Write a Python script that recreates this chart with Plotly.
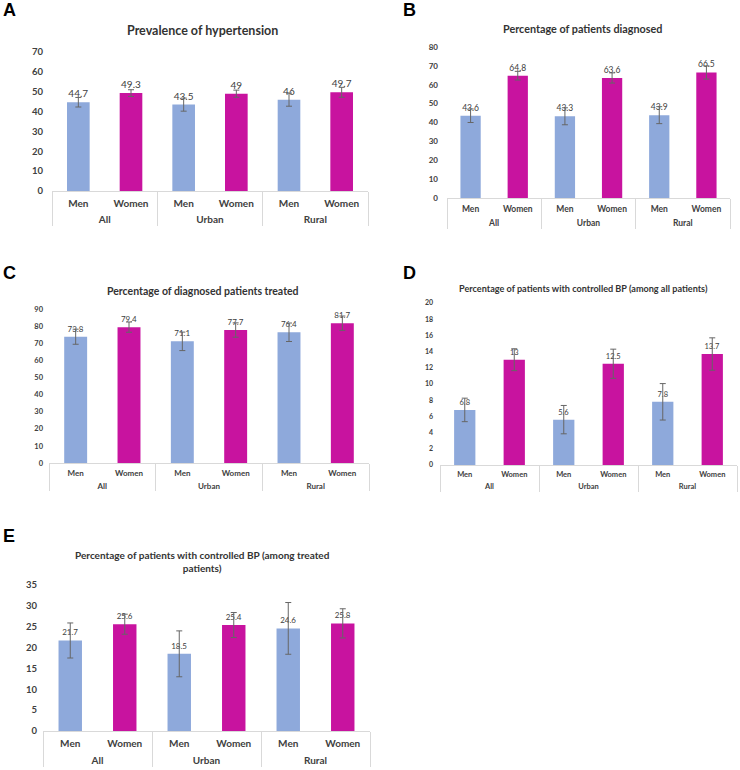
import plotly.graph_objects as go

# ---------------- data ----------------
groups = ["All", "Urban", "Rural"]
sexes = ["Men", "Women"]

titles = {
    "A": "Prevalence of hypertension",
    "B": "Percentage of patients diagnosed",
    "C": "Percentage of diagnosed patients treated",
    "D": "Percentage of patients with controlled BP (among all patients)",
    "E": "Percentage of patients with controlled BP (among treated<br>patients)",
}

A_men = [44.7, 43.5, 46.0]
A_women = [49.3, 49.0, 49.7]
A_men_err = [2.4, 3.3, 3.3]
A_women_err = [1.7, 1.8, 2.5]

B_men = [43.6, 43.3, 43.9]
B_women = [64.8, 63.6, 66.5]
B_men_err = [3.6, 4.5, 4.5]
B_women_err = [2.3, 2.7, 3.5]

C_men = [73.8, 71.1, 76.4]
C_women = [79.4, 77.7, 81.7]
C_men_err = [4.4, 5.4, 5.4]
C_women_err = [3.0, 4.2, 4.2]

D_men = [6.8, 5.6, 7.8]
D_women = [13.0, 12.5, 13.7]
D_men_err = [1.45, 1.75, 2.25]
D_women_err = [1.35, 1.8, 2.0]

E_men = [21.7, 18.5, 24.6]
E_women = [25.6, 25.4, 25.8]
E_men_err = [4.2, 5.5, 6.2]
E_women_err = [2.4, 3.0, 3.5]

y_max = {"A": 70, "B": 80, "C": 90, "D": 20, "E": 35}
y_dtick = {"A": 10, "B": 10, "C": 10, "D": 2, "E": 5}

series = {
    "A": (A_men, A_women, A_men_err, A_women_err),
    "B": (B_men, B_women, B_men_err, B_women_err),
    "C": (C_men, C_women, C_men_err, C_women_err),
    "D": (D_men, D_women, D_men_err, D_women_err),
    "E": (E_men, E_women, E_men_err, E_women_err),
}

# ---------------- styling / layout ----------------
W, H = 740, 770
MEN_COLOR = "#8EA9DB"
WOMEN_COLOR = "#C8139F"
FONT = "Lato"
TXT = "#404040"

# screen-pixel boxes: (x0, x1, y_top, y_bottom) of plot areas
boxes = {
    "A": (52, 368, 52, 191),
    "B": (447, 730, 47, 198),
    "C": (49, 369, 309, 463),
    "D": (440, 737, 303, 465),
    "E": (43, 370, 585, 731),
}
title_pos = {"A": (203, 30), "B": (582, 28), "C": (203, 291), "D": (583, 288), "E": (203, 561)}
title_size = {"A": 12.5, "B": 10.8, "C": 10.5, "D": 9.1, "E": 10}
letter_pos = {"A": (1, 10), "B": (401, 10), "C": (1, 273), "D": (401, 273), "E": (1, 536)}
tick_size = {"A": 9.5, "B": 8, "C": 7.5, "D": 7, "E": 9.5}
label_size = {"A": 10, "B": 8.5, "C": 8, "D": 7.5, "E": 8}
standoff = {"A": 8, "B": 8, "C": 5, "D": 6, "E": 5}
xstandoff = {"A": 3, "B": 3, "C": 2, "D": 2, "E": 3}
# invisible spacer size that sets the gap between the two category rows
row_gap_font = {"A": 14, "B": 12.5, "C": 11.5, "D": 10, "E": 15}


def px(x):
    return min(1.0, max(0.0, x / W))


def py(y):
    return min(1.0, max(0.0, 1 - y / H))


fig = go.Figure()
layout = dict(
    width=W, height=H,
    margin=dict(l=0, r=0, t=0, b=0, autoexpand=False),
    paper_bgcolor="white", plot_bgcolor="white",
    showlegend=False, barmode="overlay",
    annotations=[],
)

for i, key in enumerate(["A", "B", "C", "D", "E"]):
    men, women, men_err, women_err = series[key]
    spacer = f"<span style='font-size:{row_gap_font[key]}px'>\u00a0</span>"
    xg, xs, vals, errs, cols = [], [], [], [], []
    for g, m, w, me, we in zip(groups, men, women, men_err, women_err):
        xg += [g, g]
        xs += [spacer + s + spacer for s in sexes]
        vals += [m, w]
        errs += [me, we]
        cols += [MEN_COLOR, WOMEN_COLOR]
    sfx = "" if i == 0 else str(i + 1)
    fig.add_trace(go.Bar(
        x=[xg, xs], y=vals,
        xaxis="x" + sfx, yaxis="y" + sfx,
        marker=dict(color=cols, line=dict(width=0)),
        width=0.43,
        text=[f"{v:g}" for v in vals],
        textposition="outside",
        textfont=dict(family=FONT, size=label_size[key], color=TXT),
        cliponaxis=False,
        hoverinfo="skip",
        error_y=dict(type="data", array=errs, visible=True,
                     color="#666666", thickness=1, width=3),
    ))
    x0, x1, yt, yb = boxes[key]
    layout["xaxis" + sfx] = dict(
        domain=[px(x0), px(x1)], anchor="y" + sfx, type="multicategory",
        automargin=False,
        showline=True, linecolor="#D9D9D9", linewidth=1,
        showdividers=True, dividercolor="#D9D9D9", dividerwidth=1,
        ticks="", showgrid=False, zeroline=False,
        ticklabelstandoff=xstandoff[key],
        tickfont=dict(family=FONT, size=tick_size[key] + 0.5, color=TXT, weight="bold"),
    )
    layout["yaxis" + sfx] = dict(
        domain=[py(yb), py(yt)], anchor="x" + sfx,
        automargin=False,
        range=[0, y_max[key]], dtick=y_dtick[key],
        showgrid=False, zeroline=False, showline=False, ticks="",
        ticklabelstandoff=standoff[key],
        tickfont=dict(family=FONT, size=tick_size[key], color=TXT, weight="bold"),
    )
    tx, ty = title_pos[key]
    layout["annotations"].append(dict(
        text=titles[key], x=px(tx), y=py(ty), xref="paper", yref="paper",
        xanchor="center", yanchor="middle", showarrow=False,
        font=dict(family=FONT, size=title_size[key], color="#333333", weight="bold"),
    ))
    lx, ly = letter_pos[key]
    layout["annotations"].append(dict(
        text=key, x=px(lx), y=py(ly), xref="paper", yref="paper",
        xanchor="left", yanchor="middle", showarrow=False,
        font=dict(family="Liberation Sans", size=18, color="black", weight="bold"),
    ))

fig.update_layout(**layout)
# remove the page's default 8px body margin so the figure sits at the window's corner
fig.write_html("out.html", config={"displayModeBar": False},
               post_script="document.body.style.margin='0px';")
